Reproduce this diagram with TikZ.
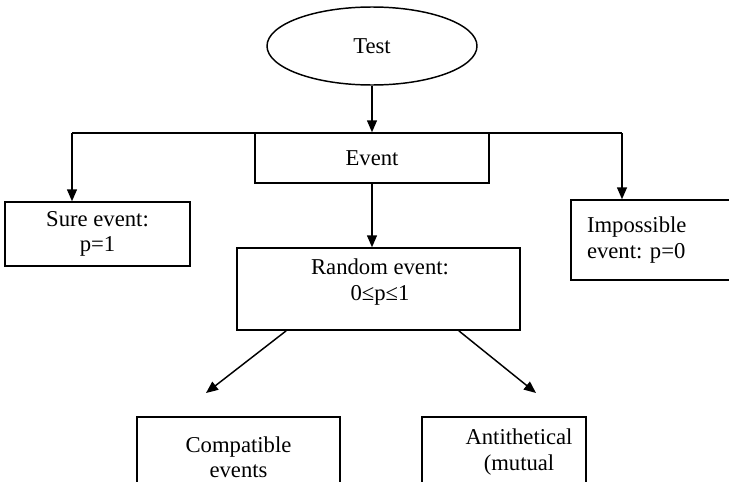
\documentclass[tikz,border=0pt]{standalone}
\usepackage{fontspec}
\setmainfont{Liberation Serif}
\usetikzlibrary{arrows.meta,shapes.geometric}
\frenchspacing
\begin{document}
\begin{tikzpicture}[x=0.75pt,y=-0.75pt,
  box/.style={draw,line width=1.1pt,inner sep=0pt,align=center,
    font=\fontsize{17}{19}\selectfont},
  txt/.style={inner sep=0pt,align=center,font=\fontsize{17}{19}\selectfont},
  arr/.style={line width=1.1pt,-{Triangle[length=9pt,width=7.5pt]}},
  ln/.style={line width=1.1pt}]
\useasboundingbox (0,0) rectangle (729,482);
\clip (0,0) rectangle (729,482);
\node[box,ellipse,minimum width=157.5pt,minimum height=58.5pt] (test) at (372,46) {Test};
\node[box,minimum width=175.5pt,minimum height=37.5pt] (event) at (372,158) {Event};
\node[box,minimum width=138.75pt,minimum height=48pt] (sure) at (97.5,234) {Sure event:\\p=1};
\node[box,align=left,text width=99pt,inner xsep=12pt,minimum height=60pt] (imp) at (653,240) {Impossible\\event: p=0};
\node[box,minimum width=212.25pt,minimum height=61.5pt] (random) at (378.5,289) {};
\node[txt] (randomtext) at (380,282) {Random event:\\0≤p≤1};
\node[box,minimum width=152.25pt,minimum height=60pt] (comp) at (238.5,457) {Compatible\\events};
\node[box,minimum width=123pt,minimum height=60pt] (anti) at (504,457) {};
\node[txt] (antitext) at (519,452) {Antithetical\\(mutual};
\coordinate (hl) at (72,133);
\coordinate (hr) at (622,133);
\coordinate (cl) at (206,393);
\coordinate (cr) at (536,393);
\draw[arr] (test.south) -- (event.north);
\draw[ln] (hl) -- (hr);
\draw[arr] (hl) -- (hl |- sure.north);
\draw[arr] (hr) -- (hr |- imp.north);
\draw[arr] (event.south) -- (event.south |- random.north);
\draw[arr] ([xshift=37.5pt]random.south west) -- (cl);
\draw[arr] ([xshift=-46.5pt]random.south east) -- (cr);
\end{tikzpicture}
\end{document}
